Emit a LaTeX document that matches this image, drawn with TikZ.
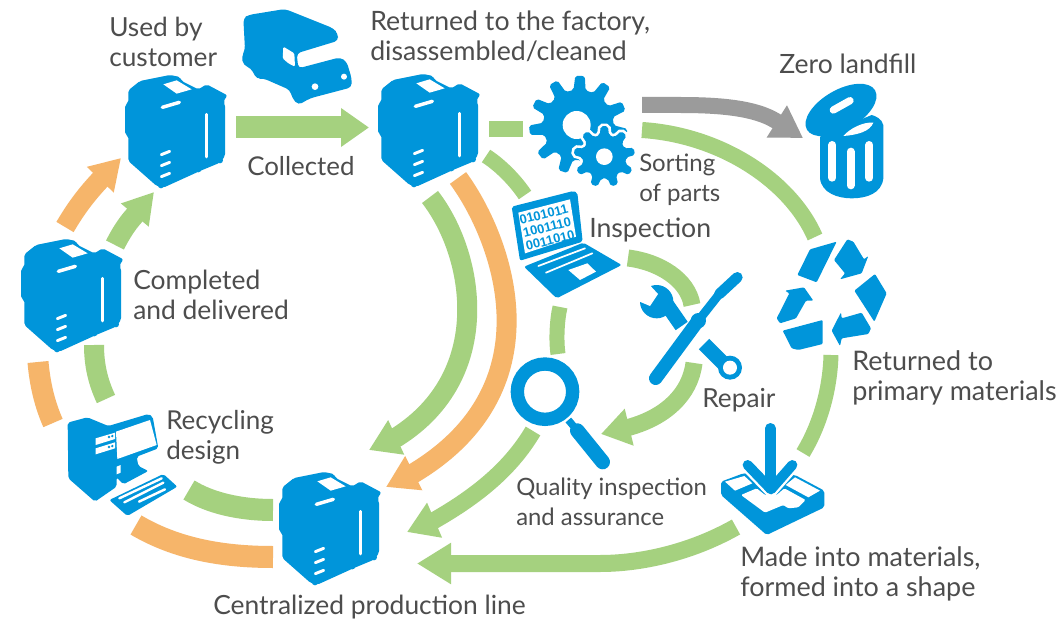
\documentclass[tikz,border=0pt]{standalone}
\usepackage{fontspec}
\setmainfont{Lato}
\newfontfamily\digitfont{Liberation Sans}
\usetikzlibrary{arrows.meta}
\definecolor{iconblue}{HTML}{0095DA}
\definecolor{flowgreen}{HTML}{A5D17F}
\definecolor{floworange}{HTML}{F6B56A}
\definecolor{flowgray}{HTML}{9B9B9B}
\definecolor{labelgray}{HTML}{4D4D4D}
\newcommand{\gearpath}[7]{%
  \path[#7] ({#1+#4*cos(#6-0.3*360/#5)},{#2+#4*sin(#6-0.3*360/#5)})
  \foreach \k in {0,...,\numexpr#5-1\relax}{
    -- ({#1+#4*cos(\k*360/#5+#6-0.3*360/#5)},{#2+#4*sin(\k*360/#5+#6-0.3*360/#5)})
    -- ({#1+#3*cos(\k*360/#5+#6-0.17*360/#5)},{#2+#3*sin(\k*360/#5+#6-0.17*360/#5)})
    -- ({#1+#3*cos(\k*360/#5+#6+0.17*360/#5)},{#2+#3*sin(\k*360/#5+#6+0.17*360/#5)})
    -- ({#1+#4*cos(\k*360/#5+#6+0.3*360/#5)},{#2+#4*sin(\k*360/#5+#6+0.3*360/#5)})
  } -- cycle;}
\tikzset{
  x=.75pt,y=-.75pt,
  zoomunit/.style={x=.25pt,y=-.25pt},
  icon/.style={fill=iconblue,rounded corners=1.5pt},
  softicon/.style={fill=iconblue,rounded corners=3pt},
  cutout/.style={fill=white},
  lbl/.style={text=labelgray,anchor=west,align=left,inner sep=0pt,font=\fontsize{#1}{22.8}\selectfont},
  flow/.style={line width=#1*.75pt},
  fg/.style={draw=flowgreen,flow=#1},
  fo/.style={draw=floworange,flow=#1},
  fy/.style={draw=flowgray,flow=#1},
  head/.style 2 args={-{Triangle[length=#1*.75pt,width=#2*.75pt]}},
  printer/.pic={
    \begin{scope}[zoomunit,shift={(-375,-222)}]
      \path[icon] (385,268)--(420,240)--(510,222)--(540,228)--(545,240)--(595,265)--(620,250)--(682,283)--(670,302)--(675,310)--(675,465)--(660,485)--(600,510)--(490,560)--(470,555)--(385,480)--(385,405)--(375,400)--(375,312)--(385,305)--cycle;
      \fill[iconblue] (660,478) circle (9) (595,505) circle (9) (483,553) circle (9);
      \fill[cutout] (490,250)--(530,238)--(575,265)--(530,278)--cycle;
      \draw[white,line width=2.6pt,line cap=round] (487,319)--(538,304);
      \draw[white,line width=2pt,line cap=round] (620,340)--(620,468);
      \draw[white,line width=2.2pt,line cap=round] (484,461)--(509,451) (484,494)--(509,484) (484,527)--(509,517);
    \end{scope}}
}
\begin{document}
\begin{tikzpicture}
\useasboundingbox (0,0) rectangle (1063,620);
\fill[white] (0,0) rectangle (1063,620);

% connector end points
\coordinate (colS) at (236,127.5); \coordinate (colE) at (369,127.5);
\coordinate (o1S) at (65,227);  \coordinate (o1E) at (121,158);
\coordinate (g1S) at (115,245); \coordinate (g1E) at (154,192);
\coordinate (o2S) at (53,423);  \coordinate (o2E) at (38,362);
\coordinate (g2S) at (106,399); \coordinate (g2E) at (94,345);
\coordinate (g3S) at (273,510); \coordinate (g3E) at (189,490);
\coordinate (o3S) at (273,557); \coordinate (o3E) at (136,525);
\coordinate (g4S) at (430,197); \coordinate (g4E) at (369,450);
\coordinate (o4S) at (458,178); \coordinate (o4E) at (386,487);
\coordinate (g5S) at (489,129); \coordinate (g5E) at (523,129);
\coordinate (g6S) at (486,156); \coordinate (g6E) at (525,195);
\coordinate (g7S) at (628,258); \coordinate (g7E) at (692,305);
\coordinate (g8S) at (694,363); \coordinate (g8E) at (601,434);
\coordinate (g9S) at (560,307); \coordinate (g9E) at (558,354);
\coordinate (g10S) at (533,431); \coordinate (g10E) at (407,532);
\coordinate (g11S) at (736,527); \coordinate (g11E) at (417,563.5);
\coordinate (grS) at (642,105); \coordinate (grE) at (803,138);
\coordinate (g12S) at (642,130); \coordinate (g12E) at (815,237);
\coordinate (g13S) at (831,355); \coordinate (g13E) at (803,453);

% connectors
\draw[fg=22,head={28}{37}] (colS) -- (colE);
\draw[fo=20,head={30}{35}] (o1S) .. controls (75,210) and (85,196) .. (100,180) -- (o1E);
\draw[fg=20,head={30}{34}] (g1S) .. controls (120,235) and (126,225) .. (134,216) -- (g1E);
\draw[fo=21] (o2E) .. controls (40,385) and (45,405) .. (o2S);
\draw[fg=20] (g2E) .. controls (94,365) and (98,382) .. (g2S);
\draw[fg=22] (g3S) .. controls (240,510) and (210,503) .. (g3E);
\draw[fo=22] (o3S) .. controls (220,557) and (175,548) .. (o3E);
\draw[fg=20,head={30}{36}] (g4S) .. controls (475,255) and (495,375) .. (397,437) -- (g4E);
\draw[fo=20,head={31}{36}] (o4S) .. controls (500,235) and (560,385) .. (414,473) -- (o4E);
\draw[fg=16] (g5S) -- (g5E);
\draw[fg=15] (g6S) .. controls (500,165) and (515,180) .. (g6E);
\draw[fg=17] (g7S) .. controls (660,262) and (688,280) .. (g7E);
\draw[fg=17,head={29}{36}] (g8S) .. controls (690,395) and (665,417) .. (630,427) -- (g8E);
\draw[fg=15] (g9S) .. controls (557,320) and (556,340) .. (g9E);
\draw[fg=17,head={30}{36}] (g10S) .. controls (510,470) and (475,497) .. (435,520) -- (g10E);
\draw[fg=17,head={34}{39}] (g11S) .. controls (690,553) and (640,563.5) .. (600,563.5) -- (g11E);
\draw[fy=16,head={31}{36}] (grS) -- (680,105) .. controls (720,105) and (755,108) .. (776,121) -- (grE);
\draw[fg=16] (g12S) .. controls (720,135) and (790,180) .. (g12E);
\draw[fg=15] (g13S) .. controls (830,390) and (820,425) .. (g13E);

% printers
\pic (printerUsed) at (125,75) {printer};
\pic (printerDone) at (21,239) {printer};
\pic (printerBack) at (378,74) {printer};
\pic (printerLine) at (279,472) {printer};

% truck
\begin{scope}[shift={(235,0)},zoomunit]
  \path[softicon] (25,55)--(40,45)--(150,27)--(295,85)--(308,100)--(310,122)--(185,160)--(190,205)--(315,172)--(335,185)--(350,235)--(350,262)--(225,295)--(190,315)--(172,295)--(165,270)--(85,235)--(65,237)--(48,205)--(25,195)--(20,170)--(30,150)--cycle;
  \path[fill=white,rounded corners=1pt] (145,140)--(178,160)--(180,200)--(160,190)--(143,175)--cycle;
  \fill[white] (240,260) circle (10) (327,230) circle (9);
\end{scope}

% gears
\begin{scope}[shift={(360,60)},zoomunit]
  \gearpath{655}{195}{148}{106}{11}{-88}{icon}
  \fill[white] (650,195) circle (42);
  \gearpath{733}{290}{92}{66}{9}{-90}{draw=white,line width=4pt,fill=white,rounded corners=1.5pt}
  \gearpath{733}{290}{92}{66}{9}{-90}{icon}
  \fill[white] (733,290) circle (25);
\end{scope}

% laptop
\begin{scope}[shift={(360,60)},zoomunit]
  \path[icon] (455,440)--(640,393)--(652,398)--(668,545)--(480,602)--cycle;
  \fill[white] (475,458)--(630,418)--(648,530)--(495,580)--cycle;
  \node[rotate=14,text=iconblue,font=\digitfont\bfseries\fontsize{9.7}{10}\selectfont,align=center,inner sep=0pt] (laptopDigits) at (561,502) {0101011\\1001110\\0011010};
  \path[icon] (492,620)--(670,548)--(785,615)--(590,715)--cycle;
  \draw[white,line width=1.3pt,line cap=round] (535,618)--(675,565) (558,638)--(697,580);
  \fill[white] (625,630)--(682,610)--(708,635)--(660,660)--cycle;
\end{scope}

% bin
\begin{scope}[shift={(760,60)},zoomunit]
  \fill[iconblue] (180,230) -- (180,355) .. controls (185,400) and (235,415) .. (275,415) .. controls (320,415) and (365,400) .. (370,355) -- (370,195) .. controls (365,175) and (345,168) .. (335,165) -- cycle;
  \fill[iconblue,rotate around={30:(243,150)}] (243,150) ellipse (118 and 60);
  \fill[white] (250,228) .. controls (290,225) and (330,215) .. (340,188) .. controls (310,185) and (270,205) .. cycle;
  \draw[white,line width=5.5pt,line cap=round] (220,150)--(270,122);
  \draw[white,line width=6pt,line cap=round] (217,255)--(217,353) (328,255)--(328,353) (272,275)--(272,376);
\end{scope}

% recycling
\begin{scope}[shift={(760,60)},zoomunit]
  \path[icon,rounded corners=.8pt] (230,545)--(170,667)--(112,645)--(150,568)--cycle;
  \path[icon,rounded corners=.8pt] (222,600)--(262,538)--(280,545)--(312,598)--(325,588)--(305,640)--(240,658)--(255,640)--cycle;
  \path[icon,rounded corners=.8pt] (345,642)--(380,700)--(343,785)--(283,692)--cycle;
  \path[icon,rounded corners=.8pt] (305,758)--(333,805)--(325,822)--(245,835)--(240,858)--(215,812)--(243,757)--(245,775)--cycle;
  \path[icon,rounded corners=.8pt] (188,780)--(188,852)--(115,870)--(95,865)--(68,812)--cycle;
  \path[icon,rounded corners=.8pt] (132,682)--(160,722)--(138,722)--(108,775)--(60,790)--(50,775)--(88,700)--(75,692)--cycle;
\end{scope}

% tools
\begin{scope}[shift={(640,270)},zoomunit]
  \draw[iconblue,line width=11pt] (82,106)--(125,168);
  \draw[iconblue,line width=11pt] (192,222)--(255,285);
  \fill[iconblue] (50,95) circle (50);
  \fill[white] (30,46)--(54,72)--(30,108)--(-8,92)--(-30,20)--cycle;
  \fill[iconblue] (270,293) circle (36);
  \fill[white] (270,293) circle (21);
  \draw[iconblue,line width=10pt,line cap=round] (47,325)--(170,158);
  \fill[iconblue] (175,152) circle (23);
  \draw[iconblue,line width=6.5pt] (175,152)--(238,72);
  \draw[iconblue,line width=8pt,line cap=round] (238,72)--(292,22);
\end{scope}

% magnifier
\begin{scope}[shift={(490,270)},zoomunit]
  \draw[iconblue,line width=10pt] (165,365) circle (83);
  \draw[iconblue,line width=5.5pt] (235,450)--(262,482);
  \draw[iconblue,line width=11pt,line cap=round] (262,482)--(338,576);
\end{scope}

% box
\begin{scope}[shift={(715,420)},zoomunit]
  \path[icon] (18,185)--(85,160)--(240,165)--(328,212)--(328,262)--(155,345)--(18,225)--cycle;
  \fill[white] (30,185)--(88,168)--(112,190)--(60,212)--cycle;
  \fill[white] (240,172)--(315,212)--(280,232)--(212,195)--cycle;
  \path[fill=white,rounded corners=1pt] (78,225)--(125,205)--(150,225)--(185,225)--(208,205)--(272,240)--(250,262)--(220,265)--(205,255)--(150,278)--cycle;
  \draw[white,line width=11pt,line join=round,line cap=round] (98,135)--(168,208)--(232,135);
  \draw[iconblue,line width=8pt,line cap=round] (166,25)--(166,205);
  \draw[iconblue,line width=7.5pt,line cap=round,line join=round] (98,135)--(168,208)--(232,135);
\end{scope}

% computer
\begin{scope}[shift={(0,390)},zoomunit]
  \path[icon] (203,98)--(262,82)--(325,108)--(445,72)--(458,80)--(475,175)--(410,200)--(415,228)--(445,243)--(370,283)--(350,262)--(350,290)--(285,335)--(205,265)--cycle;
  \fill[white] (348,125)--(450,90)--(470,165)--(352,207)--cycle;
  \fill[white] (287,145)--(345,128)--(345,147)--(287,165)--cycle;
  \fill[white] (287,175)--(345,157)--(345,175)--(287,193)--cycle;
  \fill[iconblue] (327,141) circle (4) (337,138) circle (4) (327,171) circle (4) (337,168) circle (4);
  \fill[white] (350,230)--(362,225)--(362,248)--(350,253)--cycle;
  \path[icon] (328,330)--(490,252)--(532,290)--(382,378)--cycle;
  \draw[white,line width=1.8pt,line cap=round] (358,325)--(485,265) (373,337)--(490,278) (417,335)--(495,298);
\end{scope}

% labels
\node[lbl=19.7] (lUsed) at (109,42) {Used by\\customer};
\node[lbl=19.4] (lCollected) at (247,166) {Collected};
\node[lbl=20] (lReturned) at (370,36) {Returned to the factory,\\disassembled/cleaned};
\node[lbl=19.9] (lZero) at (779,64) {Zero landfill};
\node[lbl=18] (lSorting) at (639,180) {Sorting\\of parts};
\node[lbl=20] (lInspection) at (589,230) {Inspection};
\node[lbl=19.8] (lCompleted) at (133,295) {Completed\\and delivered};
\node[lbl=19.5] (lRecycling) at (166,437) {Recycling\\design};
\node[lbl=19.7] (lRepair) at (702,400) {Repair};
\node[lbl=20.2] (lPrimary) at (852,378) {Returned to\\primary materials};
\node[lbl=17.9] (lQuality) at (516,502) {Quality inspection\\and assurance};
\node[lbl=20.2] (lMade) at (740,574) {Made into materials,\\formed into a shape};
\node[lbl=19.8] (lCentral) at (213,607) {Centralized production line};
\end{tikzpicture}
\end{document}
